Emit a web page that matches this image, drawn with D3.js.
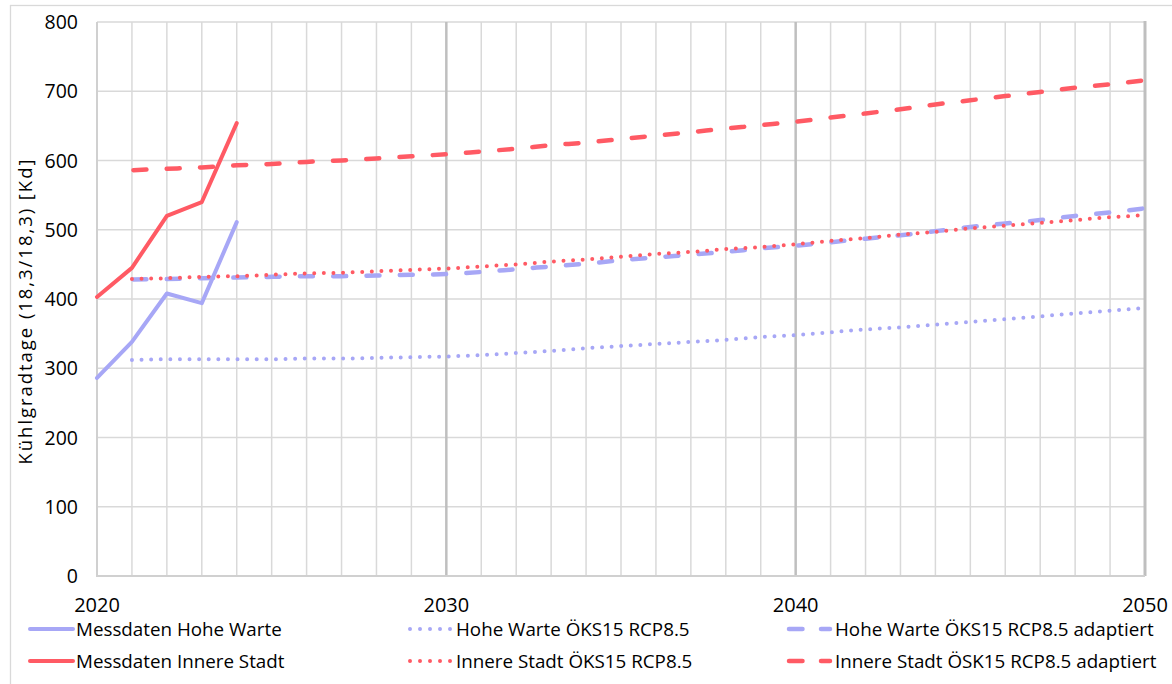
<!DOCTYPE html>
<html><head><meta charset="utf-8">
<script src="https://cdn.jsdelivr.net/npm/d3@7"></script>
<style>
html,body{margin:0;padding:0;background:#fff;}
svg{display:block;font-family:"Open Sans",sans-serif;}
</style></head>
<body>
<svg id="chart" width="1172" height="684"></svg>
<script>
const messYears = [2020, 2021, 2022, 2023, 2024];
const messHoheWarte = [286, 338, 408, 394, 511];
const messInnereStadt = [403, 445, 520, 540, 654];

const projYears = d3.range(2021, 2051);
const hoheWarteOeks = [312,313,313,313,313,314,314,315,316,317,319,322,325,329,332,335,338,341,345,348,352,356,359,363,367,371,375,379,383,387];
const hoheWarteAdapt = [428,429,430,431,432,433,433,434,435,436,439,443,447,451,456,460,464,468,473,477,482,487,492,498,504,509,514,520,525,531];
const innereStadtOeks = [429,430,432,433,435,437,438,440,442,444,447,450,454,457,461,465,468,472,475,479,484,488,493,497,502,506,510,514,518,521];
const innereStadtAdapt = [586,588,590,593,595,598,600,603,606,609,613,617,622,626,631,636,641,646,651,656,662,668,674,681,687,693,699,705,710,716];

const yTicks = [0,100,200,300,400,500,600,700,800];
const xTickLabels = [2020, 2030, 2040, 2050];
const yTitle = "Kühlgradtage (18,3/18,3) [Kd]";

const BLUE = "#A7A7F6", RED = "#FF5A64";

const series = [
  {name:"Messdaten Hohe Warte", years:messYears, values:messHoheWarte, color:BLUE, style:"solid"},
  {name:"Messdaten Innere Stadt", years:messYears, values:messInnereStadt, color:RED, style:"solid"},
  {name:"Hohe Warte ÖKS15 RCP8.5", years:projYears, values:hoheWarteOeks, color:BLUE, style:"dot"},
  {name:"Innere Stadt ÖKS15 RCP8.5", years:projYears, values:innereStadtOeks, color:RED, style:"dot"},
  {name:"Hohe Warte ÖKS15 RCP8.5 adaptiert", years:projYears, values:hoheWarteAdapt, color:BLUE, style:"dash"},
  {name:"Innere Stadt ÖSK15 RCP8.5 adaptiert", years:projYears, values:innereStadtAdapt, color:RED, style:"dash"}
];

const svg = d3.select("#chart");
const x = d3.scaleLinear().domain([2020, 2050]).range([97, 1145]);
const y = d3.scaleLinear().domain([0, 800]).range([576, 22]);

// outer border
svg.append("rect").attr("x",10.5).attr("y",5.5).attr("width",1175).attr("height",700)
  .attr("fill","none").attr("stroke","#D9D9D9").attr("stroke-width",1.3);

// grid
const g = svg.append("g");
g.selectAll(".hg").data(yTicks.filter(d=>d>0)).join("line")
  .attr("x1",x(2020)).attr("x2",x(2050)).attr("y1",d=>y(d)).attr("y2",d=>y(d))
  .attr("stroke","#D9D9D9").attr("stroke-width",1.5);
g.selectAll(".vg").data(d3.range(2021,2050).filter(d=>d%10!==0)).join("line")
  .attr("x1",d=>x(d)).attr("x2",d=>x(d)).attr("y1",y(800)).attr("y2",y(0))
  .attr("stroke","#D9D9D9").attr("stroke-width",1.5);
g.selectAll(".vm").data([2030,2040]).join("line")
  .attr("x1",d=>x(d)).attr("x2",d=>x(d)).attr("y1",y(800)).attr("y2",y(0))
  .attr("stroke","#BFBFBF").attr("stroke-width",2.5);
g.append("line").attr("x1",x(2050)).attr("x2",x(2050)).attr("y1",y(800)-1).attr("y2",y(0))
  .attr("stroke","#BFBFBF").attr("stroke-width",3);
g.append("line").attr("x1",x(2020)).attr("x2",x(2020)).attr("y1",y(800)).attr("y2",y(0)+1)
  .attr("stroke","#D0D0D0").attr("stroke-width",2);
g.append("line").attr("x1",x(2020)).attr("x2",x(2050)).attr("y1",y(0)).attr("y2",y(0))
  .attr("stroke","#D0D0D0").attr("stroke-width",2);

// y labels
svg.append("g").selectAll("text").data(yTicks).join("text")
  .attr("x",78).attr("y",d=>y(d)).attr("dy","0.36em").attr("text-anchor","end")
  .attr("font-size",19.5).attr("fill","#000").text(d=>d);
// x labels
svg.append("g").selectAll("text").data(xTickLabels).join("text")
  .attr("x",d=>x(d)).attr("y",612).attr("text-anchor","middle")
  .attr("font-size",20).attr("fill","#000").text(d=>d);
// y title
svg.append("text").attr("transform","translate(32,312) rotate(-90)")
  .attr("text-anchor","middle").attr("font-size",18.5).attr("fill","#000")
  .attr("textLength",305).attr("lengthAdjust","spacing").text(yTitle);

function styleLine(sel, s){
  sel.attr("fill","none").attr("stroke",s.color).attr("stroke-linecap","round").attr("stroke-linejoin","round");
  if(s.style==="solid") sel.attr("stroke-width",4);
  else if(s.style==="dot") sel.attr("stroke-width",4).attr("stroke-dasharray","0,9.6");
  else sel.attr("stroke-width",4.5).attr("stroke-dasharray","13,20.3").attr("stroke-dashoffset",-1.5);
}

const line = d3.line().x(d=>x(d[0])).y(d=>y(d[1])).curve(d3.curveMonotoneX);
const straight = d3.line().x(d=>x(d[0])).y(d=>y(d[1]));
const drawOrder = [4,2,3,5,0,1];
drawOrder.forEach(i=>{
  const s = series[i];
  const pts = s.years.map((yr,j)=>[yr, s.values[j]]);
  const p = svg.append("path").datum(pts).attr("d", s.style==="solid" ? straight(pts) : line(pts));
  styleLine(p, s);
});

// legend
const legendCols = [
  {sx:30, ex:73, tx:76},
  {sx:410, ex:451, tx:456},
  {sx:789, ex:830, tx:835}
];
const legendRows = [629, 661];
const legendItems = [
  {s:series[0], c:0, r:0},{s:series[1], c:0, r:1},
  {s:series[2], c:1, r:0},{s:series[3], c:1, r:1},
  {s:series[4], c:2, r:0},{s:series[5], c:2, r:1}
];
const lg = svg.append("g");
legendItems.forEach(it=>{
  const col = legendCols[it.c], yy = legendRows[it.r];
  const l = lg.append("line").attr("x1",col.sx).attr("x2",col.ex).attr("y1",yy).attr("y2",yy);
  styleLine(l, it.s);
  if(it.s.style==="dot") l.attr("stroke-dasharray","0,10");
  if(it.s.style==="dash") l.attr("stroke-dasharray","13.5,18.5").attr("stroke-dashoffset",0);
  lg.append("text").attr("x",col.tx).attr("y",yy).attr("dy","0.36em")
    .attr("font-size",18.8).attr("fill","#000").text(it.s.name);
});
</script>
</body></html>
